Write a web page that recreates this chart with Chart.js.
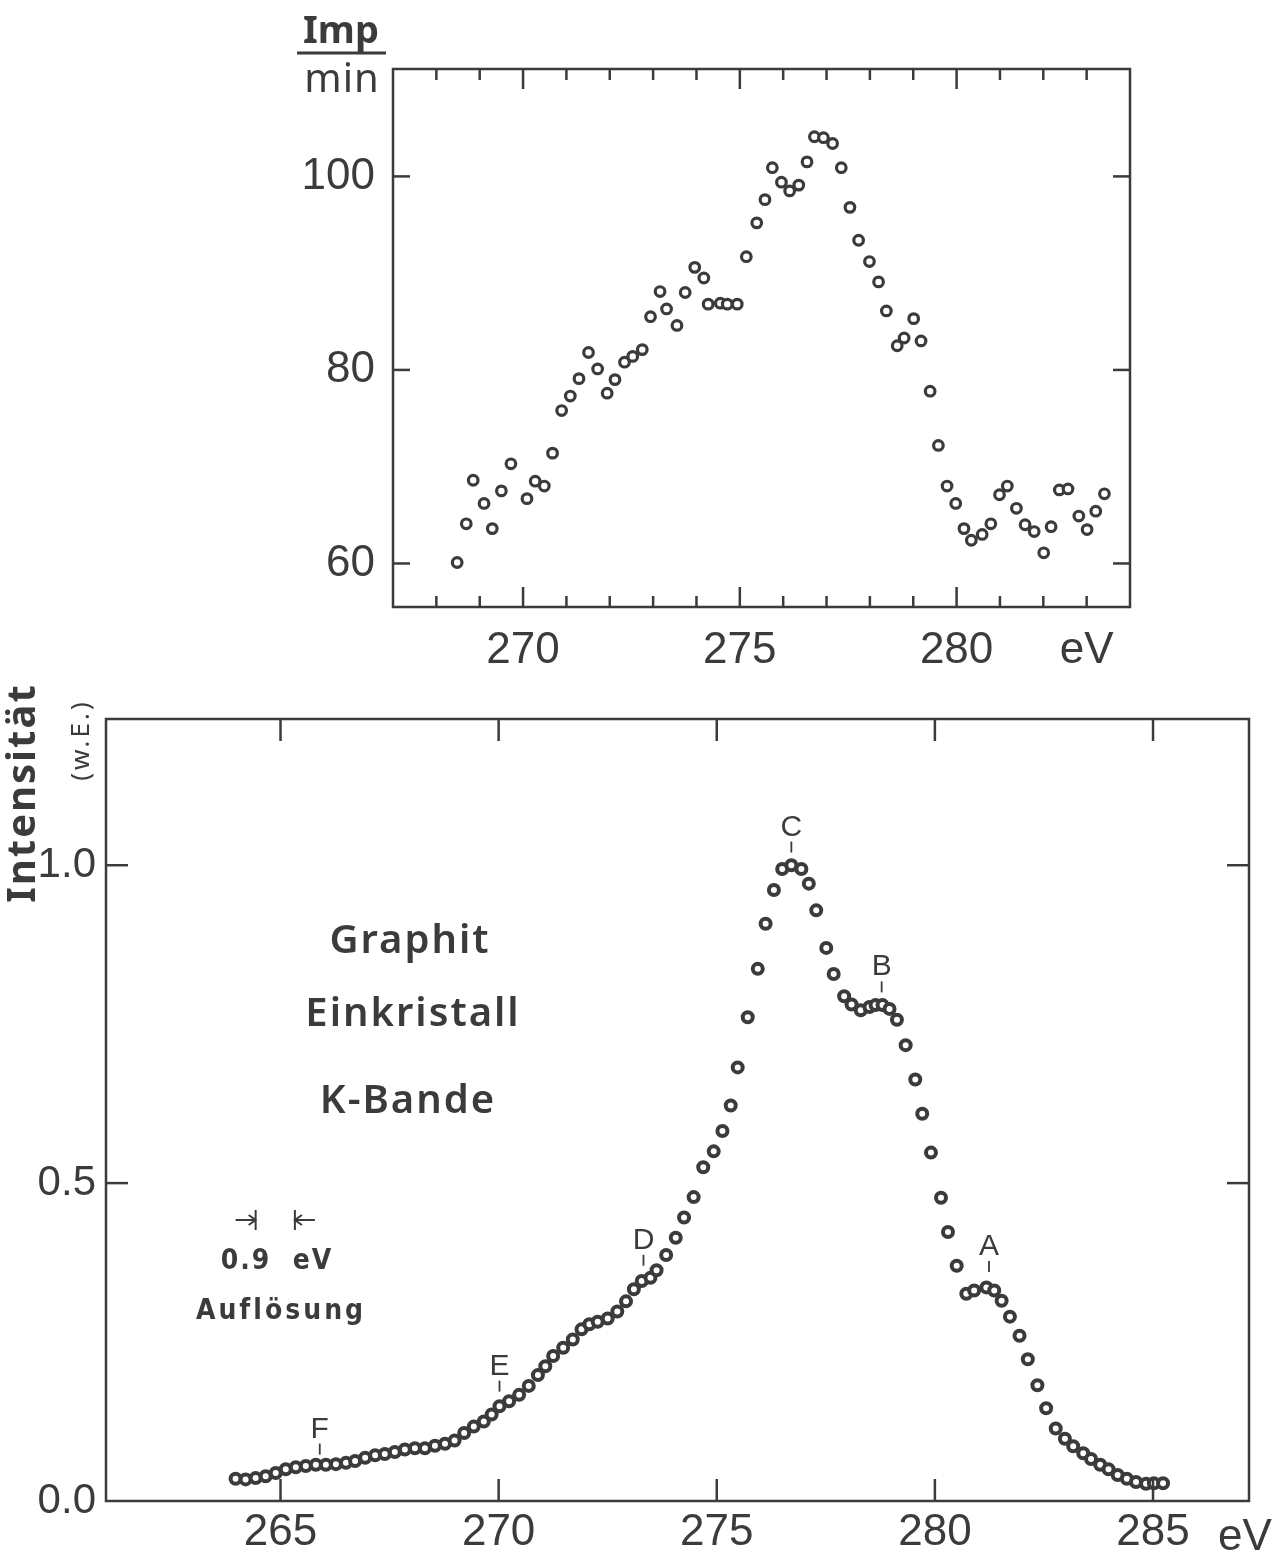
<!DOCTYPE html>
<html>
<head>
<meta charset="utf-8">
<script src="https://cdn.jsdelivr.net/npm/chart.js@4.4.1/dist/chart.umd.min.js"></script>
<style>
  html, body { margin: 0; padding: 0; background: #fff; }
  #wrap { position: relative; width: 1279px; height: 1557px; }
  #spec1 { position: absolute; left: 0; top: 0; }
  #spec2 { position: absolute; left: 0; top: 672px; }
</style>
</head>
<body>
<div id="wrap">
  <canvas id="spec1" width="1279" height="672"></canvas>
  <canvas id="spec2" width="1279" height="885"></canvas>
</div>
<script>
// upper panel: counts per minute vs. energy
const topEnergy = [
  268.48, 268.69, 268.85, 269.10, 269.29, 269.50, 269.72, 270.09, 270.28, 270.49,
  270.68, 270.89, 271.09, 271.29, 271.51, 271.72, 271.94, 272.12, 272.34, 272.53,
  272.75, 272.94, 273.16, 273.31, 273.55, 273.74, 273.96, 274.17, 274.27, 274.55,
  274.71, 274.94, 275.15, 275.39, 275.58, 275.75, 275.96, 276.15, 276.36, 276.55,
  276.72, 276.93, 277.14, 277.34, 277.54, 277.74, 277.99, 278.20, 278.38, 278.63,
  278.79, 279.01, 279.18, 279.39, 279.58, 279.78, 279.98, 280.17, 280.34, 280.59,
  280.79, 280.99, 281.17, 281.38, 281.58, 281.79, 282.01, 282.18, 282.37, 282.57,
  282.82, 283.01, 283.21, 283.41
];
const topCounts = [
  60.1, 64.1, 68.6, 66.2, 63.6, 67.5, 70.3, 66.7, 68.5, 68.0,
  71.4, 75.8, 77.3, 79.1, 81.8, 80.1, 77.6, 79.0, 80.8, 81.4,
  82.1, 85.5, 88.1, 86.3, 84.6, 88.0, 90.6, 89.5, 86.8, 86.9,
  86.8, 86.8, 91.7, 95.2, 97.6, 100.9, 99.4, 98.5, 99.1, 101.5,
  104.1, 104.0, 103.4, 100.9, 96.8, 93.4, 91.2, 89.1, 86.1, 82.5,
  83.3, 85.3, 83.0, 77.8, 72.2, 68.0, 66.2, 63.6, 62.4, 63.0,
  64.1, 67.1, 68.0, 65.7, 64.0, 63.3, 61.1, 63.8, 67.6, 67.7,
  64.9, 63.5, 65.4, 67.2
];
const topXLabels = { 270: '270', 275: '275', 280: '280', 283: 'eV' };

// lower panel: Graphit Einkristall, K-Bande
const botEnergy = [
  263.97, 264.20, 264.43, 264.66, 264.89, 265.12, 265.35, 265.58, 265.81, 266.04,
  266.27, 266.50, 266.71, 266.94, 267.17, 267.39, 267.62, 267.85, 268.08, 268.31,
  268.54, 268.77, 268.99, 269.21, 269.43, 269.66, 269.84, 270.02, 270.24, 270.47,
  270.69, 270.90, 271.07, 271.25, 271.48, 271.70, 271.90, 272.08, 272.27, 272.50,
  272.72, 272.92, 273.10, 273.28, 273.48, 273.62, 273.84, 274.06, 274.25, 274.47,
  274.69, 274.93, 275.13, 275.32, 275.48, 275.71, 275.94, 276.12, 276.31, 276.50,
  276.71, 276.94, 277.11, 277.28, 277.51, 277.68, 277.92, 278.09, 278.30, 278.50,
  278.64, 278.80, 278.96, 279.13, 279.33, 279.55, 279.71, 279.91, 280.14, 280.30,
  280.50, 280.72, 280.90, 281.18, 281.36, 281.53, 281.72, 281.94, 282.13, 282.35,
  282.55, 282.77, 282.98, 283.17, 283.40, 283.58, 283.79, 283.98, 284.19, 284.40,
  284.61, 284.84, 285.02, 285.23
];
const botIntensity = [
  0.035, 0.034, 0.036, 0.039, 0.044, 0.050, 0.053, 0.055, 0.057, 0.057,
  0.058, 0.060, 0.063, 0.068, 0.072, 0.074, 0.077, 0.081, 0.083, 0.083,
  0.087, 0.090, 0.095, 0.107, 0.117, 0.125, 0.136, 0.149, 0.157, 0.167,
  0.181, 0.198, 0.212, 0.228, 0.241, 0.254, 0.270, 0.278, 0.282, 0.287,
  0.298, 0.314, 0.333, 0.346, 0.351, 0.363, 0.387, 0.414, 0.446, 0.478,
  0.525, 0.550, 0.582, 0.622, 0.682, 0.761, 0.837, 0.908, 0.961, 0.994,
  1.000, 0.994, 0.971, 0.929, 0.870, 0.829, 0.794, 0.781, 0.772, 0.777,
  0.780, 0.780, 0.774, 0.757, 0.717, 0.663, 0.609, 0.548, 0.477, 0.423,
  0.370, 0.326, 0.331, 0.336, 0.331, 0.315, 0.290, 0.260, 0.223, 0.182,
  0.146, 0.114, 0.098, 0.086, 0.075, 0.066, 0.057, 0.050, 0.041, 0.035,
  0.030, 0.027, 0.028, 0.028
];
const peakNames = ['A', 'B', 'C', 'D', 'E', 'F'];
const peakEnergy = [281.24, 278.78, 276.71, 273.32, 270.02, 265.90];
const peakLevel = [0.360, 0.800, 1.020, 0.370, 0.172, 0.073];
const resolution = 0.9;       // eV
const resolutionAt = 264.88;  // centre of the marker

const INK = '#3b3b3b';
const NARROW = "'Liberation Sans Narrow', 'DejaVu Sans Condensed', sans-serif";
Chart.defaults.font.family = "'Liberation Sans', Arial, sans-serif";
Chart.defaults.color = INK;

// box frame + inward tick marks on all four sides
const framePlugin = {
  id: 'frame',
  afterDraw(chart, args, opts) {
    const { ctx, chartArea: a, scales } = chart;
    const line = (x1, y1, x2, y2) => { ctx.beginPath(); ctx.moveTo(x1, y1); ctx.lineTo(x2, y2); ctx.stroke(); };
    ctx.save();
    ctx.strokeStyle = INK;
    ctx.lineWidth = 2.5;
    ctx.strokeRect(a.left, a.top, a.right - a.left, a.bottom - a.top);
    const x = scales.x;
    x.ticks.forEach(t => {
      if (t.value <= x.min || t.value >= x.max) return;
      const px = x.getPixelForValue(t.value);
      const len = t.value % opts.major === 0 ? opts.majorLen : opts.minorLen;
      line(px, a.bottom, px, a.bottom - len);
      line(px, a.top, px, a.top + len);
    });
    const y = scales.y;
    y.ticks.forEach(t => {
      if (t.value <= y.min || t.value >= y.max) return;
      const py = y.getPixelForValue(t.value);
      line(a.left, py, a.left + opts.yLen, py);
      line(a.right, py, a.right - opts.yLen, py);
    });
    ctx.restore();
  }
};

const unitPlugin = {
  id: 'unit',
  afterDraw(chart) {
    const ctx = chart.ctx;
    ctx.save();
    ctx.fillStyle = INK;
    ctx.strokeStyle = INK;
    ctx.textAlign = 'center';
    ctx.textBaseline = 'alphabetic';
    ctx.font = "bold 38px 'Noto Sans', sans-serif";
    ctx.fillText('Imp', 341, 43);
    ctx.lineWidth = 3;
    ctx.beginPath(); ctx.moveTo(297, 53); ctx.lineTo(386, 53); ctx.stroke();
    ctx.font = "40px 'Noto Sans', sans-serif";
    ctx.letterSpacing = '1px';
    ctx.fillText('min', 342, 92);
    ctx.restore();
  }
};

const notesPlugin = {
  id: 'notes',
  afterDraw(chart) {
    const { ctx, chartArea: a, scales: { x, y } } = chart;
    ctx.save();
    ctx.fillStyle = INK;
    ctx.strokeStyle = INK;
    ctx.textAlign = 'center';
    ctx.textBaseline = 'middle';

    // axis title
    ctx.save();
    ctx.translate(24, 121);
    ctx.rotate(-Math.PI / 2);
    ctx.font = "bold 40px 'Noto Sans', sans-serif";
    ctx.letterSpacing = '2px';
    ctx.fillText('Intensität', 0, 0);
    ctx.restore();
    ctx.save();
    ctx.translate(82, 68);
    ctx.rotate(-Math.PI / 2);
    ctx.font = "26px 'Noto Sans', sans-serif";
    ctx.letterSpacing = '3px';
    ctx.fillText('(w.E.)', 0, 0);
    ctx.restore();

    // sample description
    ctx.font = "600 40px 'Noto Sans', sans-serif";
    ctx.letterSpacing = '2px';
    ctx.fillText('Graphit', 410, 270);
    ctx.fillText('Einkristall', 413, 343);
    ctx.fillText('K-Bande', 408, 430);

    // resolution marker
    ctx.lineWidth = 2;
    const xl = x.getPixelForValue(resolutionAt - resolution / 2);
    const xr = x.getPixelForValue(resolutionAt + resolution / 2);
    const ym = 548;
    ctx.beginPath();
    ctx.moveTo(xl, ym - 10); ctx.lineTo(xl, ym + 10);
    ctx.moveTo(xl - 20, ym); ctx.lineTo(xl, ym);
    ctx.moveTo(xl - 7, ym - 5); ctx.lineTo(xl, ym); ctx.lineTo(xl - 7, ym + 5);
    ctx.moveTo(xr, ym - 10); ctx.lineTo(xr, ym + 10);
    ctx.moveTo(xr + 20, ym); ctx.lineTo(xr, ym);
    ctx.moveTo(xr + 7, ym - 5); ctx.lineTo(xr, ym); ctx.lineTo(xr + 7, ym + 5);
    ctx.stroke();
    ctx.font = "bold 28px " + NARROW;
    ctx.letterSpacing = '2px';
    ctx.fillText('0.9  eV', 277, 590);
    ctx.letterSpacing = '3px';
    ctx.fillText('Auflösung', 281, 640);

    // peak labels
    ctx.letterSpacing = '0px';
    ctx.font = "30px 'Liberation Sans', sans-serif";
    ctx.textBaseline = 'alphabetic';
    ctx.lineWidth = 1.8;
    peakNames.forEach((n, i) => {
      const px = x.getPixelForValue(peakEnergy[i]);
      const py = y.getPixelForValue(peakLevel[i]);
      ctx.beginPath(); ctx.moveTo(px, py); ctx.lineTo(px, py - 11); ctx.stroke();
      ctx.fillText(n, px, py - 17);
    });

    // unit at the end of the energy axis
    ctx.font = "44px 'Liberation Sans', sans-serif";
    ctx.textBaseline = 'middle';
    ctx.fillText('eV', a.right - 4, 866);
    ctx.restore();
  }
};

const markerStyle = {
  showLine: false,
  pointStyle: 'circle',
  pointBackgroundColor: '#fff',
  pointBorderColor: INK
};

new Chart(document.getElementById('spec1'), {
  type: 'scatter',
  data: {
    datasets: [{
      ...markerStyle,
      data: topEnergy.map((e, i) => ({ x: e, y: topCounts[i] })),
      pointRadius: 4.8,
      pointBorderWidth: 3.2
    }]
  },
  options: {
    responsive: false,
    animation: false,
    events: [],
    layout: { padding: { top: 69, right: 149, left: 0, bottom: 0 } },
    plugins: {
      legend: { display: false },
      tooltip: { enabled: false },
      frame: { major: 5, majorLen: 20, minorLen: 11, yLen: 17 }
    },
    scales: {
      x: {
        type: 'linear', min: 267, max: 284,
        grid: { display: false }, border: { display: false },
        ticks: {
          stepSize: 1, autoSkip: false, maxRotation: 0, padding: 14,
          font: { size: 44, lineHeight: 1 }, color: INK,
          callback: v => topXLabels[v] || ''
        },
        afterFit: s => { s.height = 65; }
      },
      y: {
        min: 55.5, max: 111.1,
        grid: { display: false }, border: { display: false },
        ticks: {
          stepSize: 20, includeBounds: false, padding: 10,
          font: { size: 44, lineHeight: 1 }, color: INK
        },
        afterFit: s => { s.width = 393; }
      }
    }
  },
  plugins: [framePlugin, unitPlugin]
});

new Chart(document.getElementById('spec2'), {
  type: 'scatter',
  data: {
    datasets: [{
      ...markerStyle,
      data: botEnergy.map((e, i) => ({ x: e, y: botIntensity[i] })),
      pointRadius: 5,
      pointBorderWidth: 4
    }]
  },
  options: {
    responsive: false,
    animation: false,
    events: [],
    layout: { padding: { top: 47, right: 30, left: 0, bottom: 0 } },
    plugins: {
      legend: { display: false },
      tooltip: { enabled: false },
      frame: { major: 5, majorLen: 22, minorLen: 22, yLen: 22 }
    },
    scales: {
      x: {
        type: 'linear', min: 261, max: 287.2,
        grid: { display: false }, border: { display: false },
        ticks: {
          stepSize: 5, includeBounds: false, autoSkip: false, maxRotation: 0, padding: 2,
          font: { size: 44, lineHeight: 1 }, color: INK,
          callback: v => String(v)
        },
        afterFit: s => { s.height = 56; }
      },
      y: {
        min: 0, max: 1.23,
        grid: { display: false }, border: { display: false },
        ticks: {
          stepSize: 0.5, includeBounds: false, padding: 2,
          font: { size: 42, lineHeight: 1 }, color: INK,
          callback: v => v.toFixed(1)
        },
        afterFit: s => { s.width = 106; }
      }
    }
  },
  plugins: [framePlugin, notesPlugin]
});
</script>
</body>
</html>
